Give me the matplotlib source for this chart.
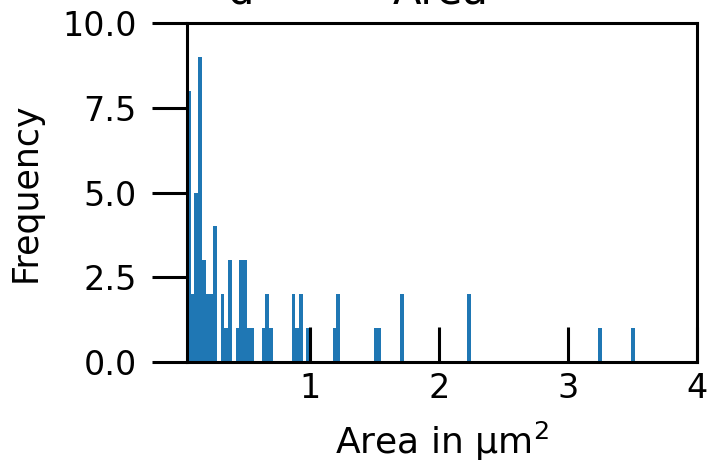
import numpy as np
import matplotlib
matplotlib.use("Agg")
import matplotlib.pyplot as plt

# histogram of particle areas as (bin index, count)
area_min = 0.05
area_max = 3.52
n_bins = 120
bin_idx = [0, 1, 2, 3, 4, 5, 6, 7, 9, 10, 11, 13, 14, 15, 16, 17, 20, 21, 22,
           28, 29, 30, 32, 39, 40, 50, 51, 57, 75, 110, 119]
counts = [8, 2, 5, 9, 3, 2, 2, 4, 2, 1, 3, 1, 3, 3, 1, 1, 1, 2, 1,
          2, 1, 2, 1, 1, 2, 1, 1, 2, 2, 1, 1]
x_ticks = [1, 2, 3, 4]

edges = np.linspace(area_min, area_max, n_bins + 1)
weights = np.zeros(n_bins)
weights[bin_idx] = counts
centers = (edges[:-1] + edges[1:]) / 2

fig = plt.figure(figsize=(7.15, 4.67), dpi=100)
ax = fig.add_axes([0.2615, 0.2248, 0.7135, 0.7259])

ax.hist(centers, bins=edges, weights=weights, color="#1f77b4")

ax.set_xlim(area_min, 4)
ax.set_ylim(0, 10)
ax.set_xticks(x_ticks)
ax.set_yticks([0, 2.5, 5, 7.5, 10])
ax.set_yticklabels(["0.0", "2.5", "5.0", "7.5", "10.0"])

for s in ax.spines.values():
    s.set_linewidth(2.2)
ax.tick_params(axis="x", direction="in", length=25, width=2.2, pad=7, labelsize=24)
ax.tick_params(axis="y", direction="out", length=25, width=2.2, pad=11, labelsize=24)

ax.set_xlabel("Area in μm$^2$", fontsize=26, labelpad=11)
ax.set_ylabel("Frequency", fontsize=25, labelpad=14)

# title is cropped off at the top of the image (as in the original)
fig.text(0.318, 0.993, "d", fontsize=30, va="baseline", ha="left")
fig.text(0.549, 0.993, "Area", fontsize=30, va="baseline", ha="left")

fig.savefig("out.png", dpi=100)
